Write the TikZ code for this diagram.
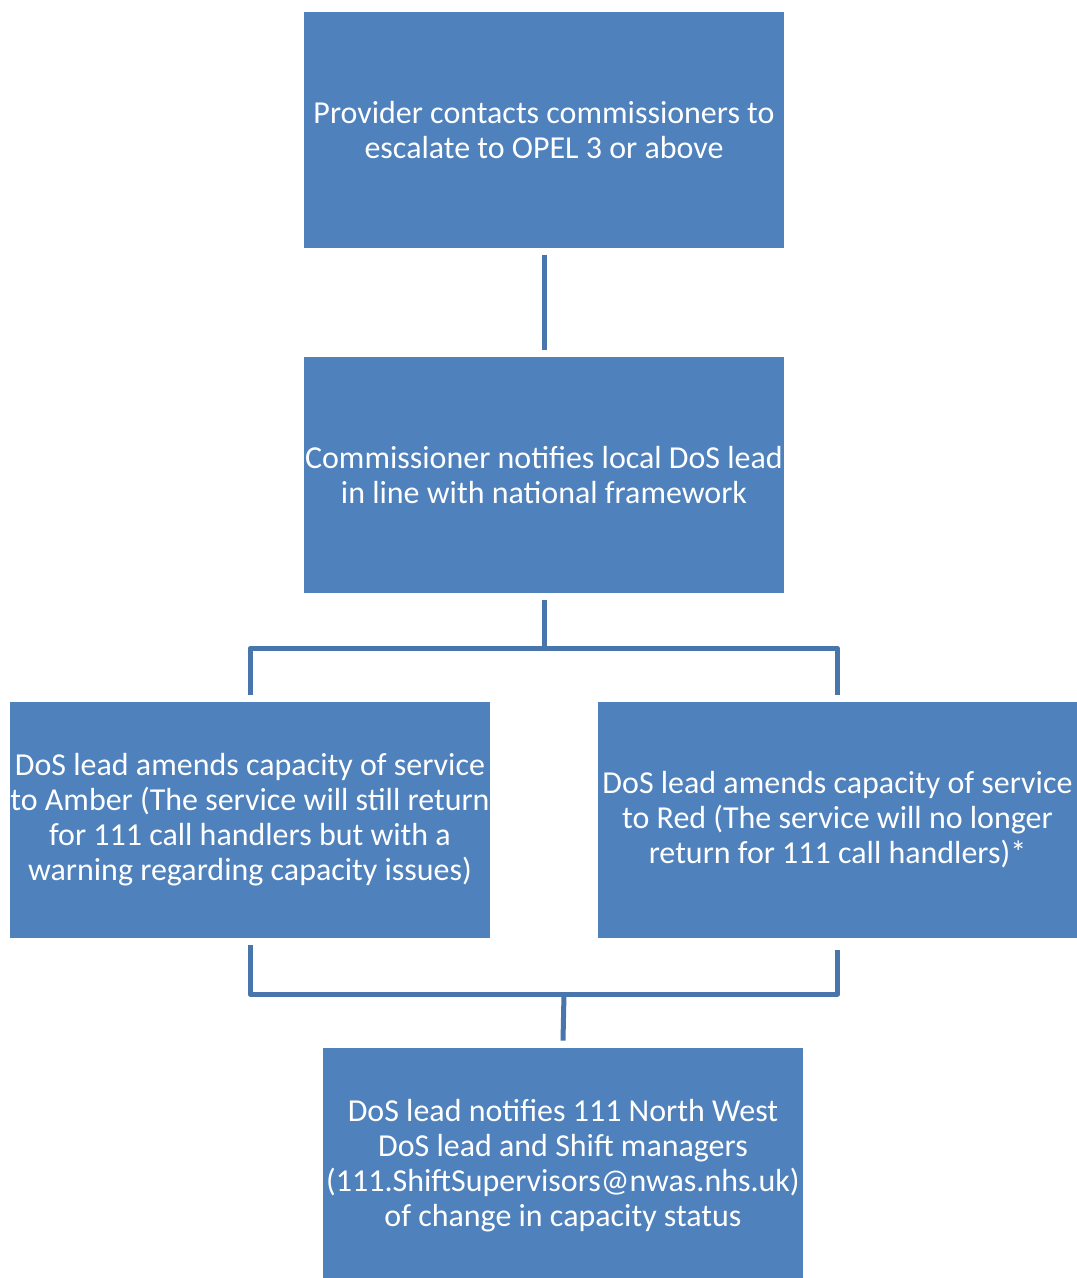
\documentclass[tikz,border=0pt]{standalone}
\usepackage{fontspec}
\setmainfont{Carlito}
\definecolor{boxblue}{HTML}{4F81BD}
\definecolor{lineblue}{HTML}{4775AC}

\begin{document}
\begin{tikzpicture}[x=0.02cm,y=-0.02cm,
	flowbox/.style={fill=boxblue,draw=none,text=white,minimum width=9.6cm,minimum height=4.72cm,inner sep=0pt,align=center,font=\fontsize{18.2}{19.9}\selectfont},
	link/.style={draw=lineblue,line width=0.1cm,line join=round}]
	\useasboundingbox (0,0) rectangle (1077,1278);
	\node[flowbox] (provider) at (544,130) {Provider contacts commissioners to\\escalate to OPEL 3 or above};
	\node[flowbox] (commissioner) at (544,475) {Commissioner notifies local DoS lead\\in line with national framework};
	\node[flowbox] (amber) at (250,820) {DoS lead amends capacity of service\\to Amber (The service will still return\\for 111 call handlers but with a\\warning regarding capacity issues)};
	\node[flowbox] (red) at (837.5,820) {DoS lead amends capacity of service\\to Red (The service will no longer\\return for 111 call handlers)*};
	\node[flowbox] (notify) at (563,1166) {DoS lead notifies 111 North West\\DoS lead and Shift managers\\(111.ShiftSupervisors@nwas.nhs.uk)\\of change in capacity status};
	\coordinate (merge) at (564,994);
	
	\draw[link] ([yshift=-0.14cm]provider.south) -- ([yshift=0.14cm]commissioner.north);
	\draw[link] ([yshift=-0.14cm]commissioner.south) -- ++(0,48) -| ([yshift=0.14cm]amber.north);
	\draw[link] ([yshift=-0.14cm]commissioner.south) -- ++(0,48) -| ([yshift=0.14cm]red.north);
	\draw[link] ([yshift=-0.14cm]amber.south) |- (merge);
	\draw[link] ([yshift=-0.24cm]red.south) |- (merge);
	\draw[link] (merge) -- ([yshift=0.14cm]notify.north);
\end{tikzpicture}
\end{document}
